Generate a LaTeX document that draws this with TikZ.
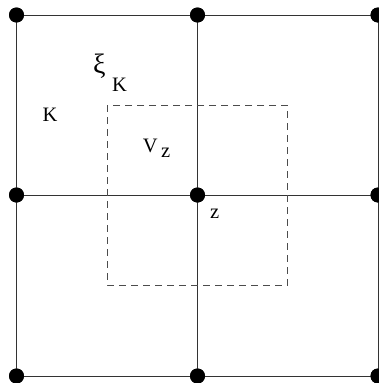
\documentclass[tikz,border=0pt]{standalone}
\usepackage{fontspec}
\setmainfont{Liberation Serif}
\begin{document}
\begin{tikzpicture}[x=1pt,y=-1pt,
  dot/.style={circle,fill=black,inner sep=0pt,minimum size=15pt},
  gridline/.style={draw=black!80,line width=1pt},
  dashline/.style={draw=black!70,line width=1pt,dash pattern=on 7pt off 5pt},
  lbl/.style={font=\fontsize{20.5}{24}\selectfont,inner sep=0pt,anchor=base west}]
\useasboundingbox (0,0) rectangle (379,383);
% grid dots
\node[dot] (d11) at (16.5,15) {};
\node[dot] (d12) at (197.5,15) {};
\node[dot] (d13) at (378,15) {};
\node[dot] (d21) at (16.5,195) {};
\node[dot] (d22) at (197.5,195) {};
\node[dot] (d23) at (378,195) {};
\node[dot] (d31) at (16.5,376) {};
\node[dot] (d32) at (197.5,376) {};
\node[dot] (d33) at (378,376) {};
% grid lines
\draw[gridline] (d11.center) -- (d13.center);
\draw[gridline] (d21.center) -- (d23.center);
\draw[gridline] (d31.center) -- (d33.center);
\draw[gridline] (d11.center) -- (d31.center);
\draw[gridline] (d12.center) -- (d32.center);
\draw[gridline] (d13.center) -- (d33.center);
% dots on top of the lines
\foreach \n in {d11,d12,d13,d21,d22,d23,d31,d32,d33}
  \fill[black] (\n.center) circle (7.5pt);
% dashed square
\coordinate (v1) at (107,105);
\coordinate (v2) at (287.5,285);
\draw[dashline] (v1) rectangle (v2);
% labels
\node[lbl,font=\fontsize{28}{30}\selectfont] (xi) at (93,73) {ξ};
\node[lbl] (xiK) at (112,91.7) {K};
\node[lbl] (K) at (42.3,121.7) {K};
\node[lbl] (V) at (142.7,152.7) {V\hspace{3.5pt}\raisebox{-4.6pt}{z}};
\node[lbl] (z) at (209.8,218) {z};
\end{tikzpicture}
\end{document}
